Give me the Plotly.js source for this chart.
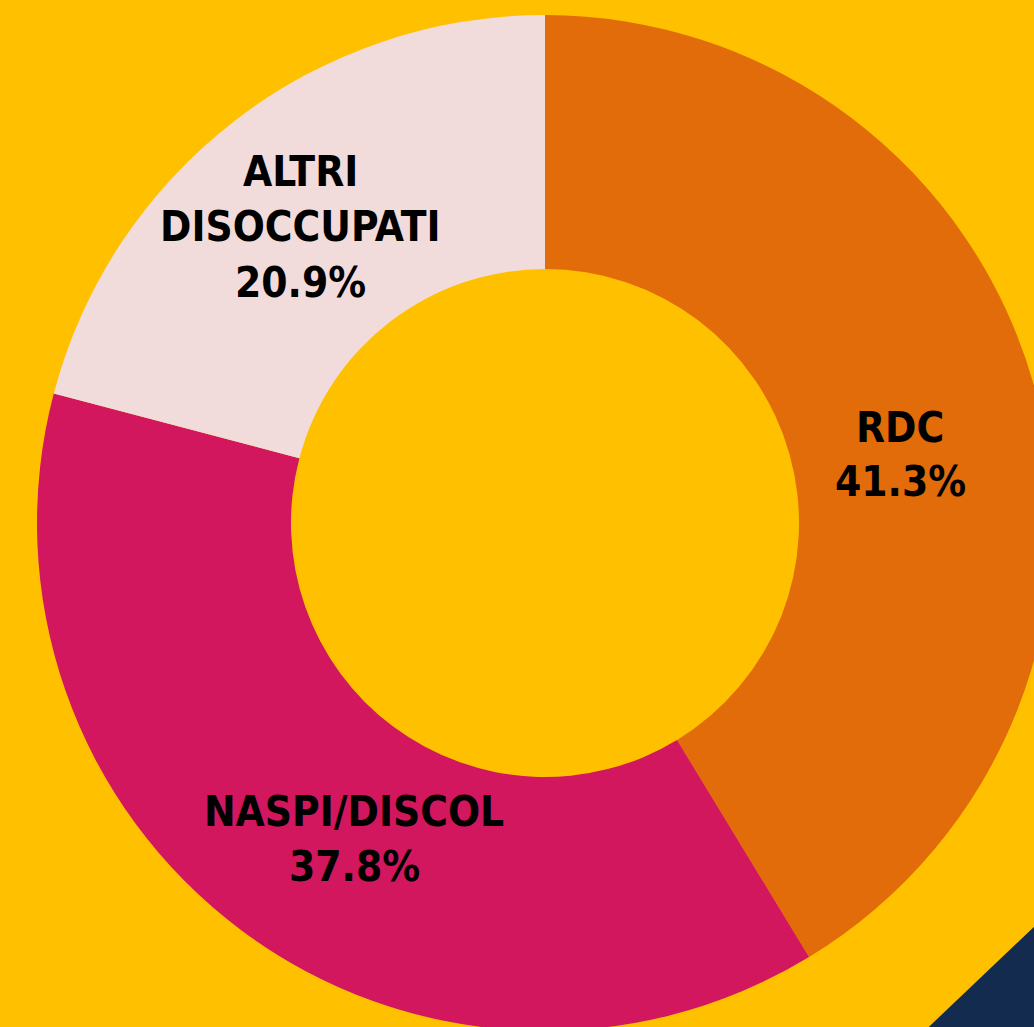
<!DOCTYPE html>
<html>
<head>
<meta charset="utf-8">
<script src="https://cdn.plot.ly/plotly-3.0.1.min.js"></script>
<style>
html, body { margin: 0; padding: 0; overflow: hidden; background: #FFC000; }
#chart { position: absolute; left: 0; top: 0; }
</style>
</head>
<body>
<div id="chart"></div>
<script>
const categories = ["RDC", "NASPI/DISCOL", "ALTRI<br>DISOCCUPATI"];
const values = [41.3, 37.8, 20.9];
const percentLabels = ["41.3%", "37.8%", "20.9%"];
const colors = ["#E36C0A", "#D2175E", "#F2DCDB"];

const W = 1100, H = 1100;
const cx = 545, cy = 523, R = 508;

const trace = {
  type: "pie",
  labels: categories,
  values: values,
  textinfo: "none",
  hole: 0.5,
  sort: false,
  direction: "clockwise",
  rotation: 0,
  marker: { colors: colors, line: { width: 0 } },
  domain: {
    x: [(cx - R) / W, (cx + R) / W],
    y: [(H - (cy + R)) / H, (H - (cy - R)) / H]
  },
  hoverinfo: "none"
};

// label block placement: pixel centre x, y of first line, line step
const labelPos = [[900, 427, 54], [354, 811, 55], [300, 171, 55.5]];
const font = { family: "'DejaVu Sans Condensed', 'DejaVu Sans', sans-serif", size: 42, color: "#000000", weight: "bold" };

const annotations = [];
categories.forEach((cat, i) => {
  const lines = cat.split("<br>").concat([percentLabels[i]]);
  lines.forEach((ln, j) => {
    annotations.push({
      xref: "paper", yref: "paper",
      x: labelPos[i][0] / W,
      y: 1 - (labelPos[i][1] + j * labelPos[i][2]) / H,
      xanchor: "center", yanchor: "middle",
      text: ln, showarrow: false, font: font
    });
  });
});

const layout = {
  width: W,
  height: H,
  margin: { l: 0, r: 0, t: 0, b: 0 },
  paper_bgcolor: "#FFC000",
  plot_bgcolor: "#FFC000",
  showlegend: false,
  annotations: annotations,
  shapes: [{
    type: "path",
    xref: "paper", yref: "paper",
    path: "M " + (852 / W) + " " + (1 - 1100 / H) + " L " + (1100 / W) + " " + (1 - 864 / H) + " L 1 0 Z",
    fillcolor: "#132B4E",
    line: { width: 0 },
    layer: "above"
  }]
};

Plotly.newPlot("chart", [trace], layout, { displayModeBar: false, staticPlot: true });
</script>
</body>
</html>
